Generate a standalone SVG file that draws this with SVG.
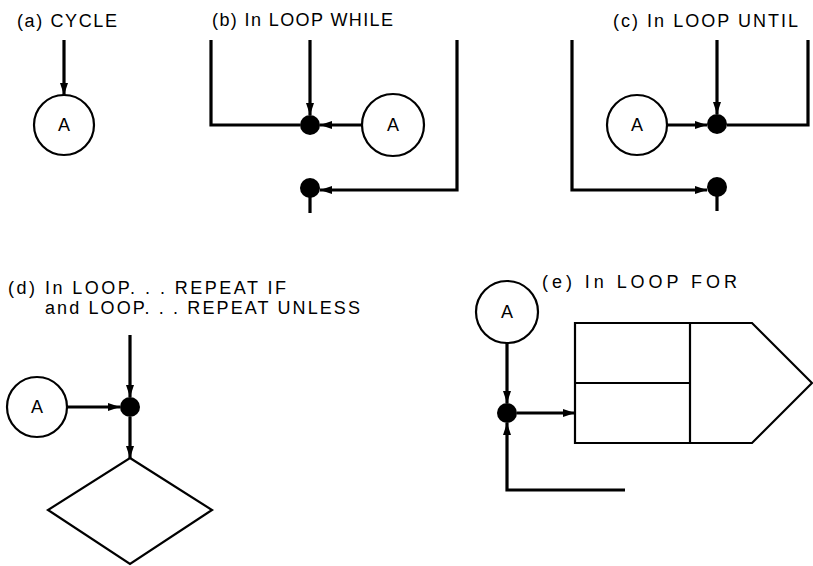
<svg xmlns="http://www.w3.org/2000/svg" width="813" height="566" viewBox="0 0 813 566">
<style>
text{font-family:"Liberation Sans",Arial,sans-serif;font-size:18px;fill:#000}
.a{font-size:18px}
.c{fill:#fff;stroke:#000;stroke-width:2.2}
.d{fill:#000}
.l{fill:none;stroke:#000;stroke-width:3.2;stroke-linejoin:miter}
.s{fill:none;stroke:#000;stroke-width:2.2}
</style>
<defs>
<marker id="ah" viewBox="0 0 12 8" refX="12" refY="4" markerWidth="12" markerHeight="8" markerUnits="userSpaceOnUse" orient="auto">
<path d="M0,0 L12,4 L0,8 z" fill="#000"/>
</marker>
</defs>
<rect width="813" height="566" fill="#fff"/>
<g id="labels">
<text x="17" y="27" textLength="100" lengthAdjust="spacing">(a)  CYCLE</text>
<text x="212" y="26" textLength="181" lengthAdjust="spacing">(b)  In LOOP WHILE</text>
<text x="613" y="27" textLength="185" lengthAdjust="spacing">(c)  In LOOP UNTIL</text>
<text x="8" y="294" textLength="278" lengthAdjust="spacing">(d)  In LOOP. . . REPEAT IF</text>
<text x="45" y="314" textLength="315" lengthAdjust="spacing">and LOOP. . . REPEAT UNLESS</text>
<text x="542" y="288" textLength="195" lengthAdjust="spacing">(e)  In LOOP FOR</text>
</g>
<g id="connectors">
<path class="l" d="M64,40 V95" marker-end="url(#ah)"/>
<path class="l" d="M211,40 V125 H300"/>
<path class="l" d="M310,40 V115" marker-end="url(#ah)"/>
<path class="l" d="M362,125 H320" marker-end="url(#ah)"/>
<path class="l" d="M457,40 V190 H320" marker-end="url(#ah)"/>
<path class="l" d="M310,196 V213"/>
<path class="l" d="M717,40 V114" marker-end="url(#ah)"/>
<path class="l" d="M667,125 H707" marker-end="url(#ah)"/>
<path class="l" d="M808,40 V125 H727"/>
<path class="l" d="M572,40 V190 H707" marker-end="url(#ah)"/>
<path class="l" d="M717,196 V211"/>
<path class="l" d="M130,335 V397" marker-end="url(#ah)"/>
<path class="l" d="M67,407 H120" marker-end="url(#ah)"/>
<path class="l" d="M130,417 V458" marker-end="url(#ah)"/>
<path class="l" d="M507,343 V403" marker-end="url(#ah)"/>
<path class="l" d="M517,413 H575" marker-end="url(#ah)"/>
<path class="l" d="M625,490 H507 V423" marker-end="url(#ah)"/>
</g>
<g id="nodeA_a"><circle class="c" cx="64" cy="125" r="30"/><text class="a" x="64" y="131" text-anchor="middle">A</text></g>
<g id="nodeA_b"><circle class="c" cx="393" cy="125" r="31"/><text class="a" x="393" y="131" text-anchor="middle">A</text></g>
<g id="dot_b1"><circle class="d" cx="310" cy="125" r="10"/></g>
<g id="dot_b2"><circle class="d" cx="310" cy="188" r="10"/></g>
<g id="nodeA_c"><circle class="c" cx="637" cy="125" r="30"/><text class="a" x="637" y="131" text-anchor="middle">A</text></g>
<g id="dot_c1"><circle class="d" cx="717" cy="124" r="10"/></g>
<g id="dot_c2"><circle class="d" cx="717" cy="187" r="10"/></g>
<g id="nodeA_d"><circle class="c" cx="37" cy="407" r="30"/><text class="a" x="37" y="413" text-anchor="middle">A</text></g>
<g id="dot_d"><circle class="d" cx="130" cy="407" r="10"/></g>
<g id="diamond_d"><polygon class="s" points="130,458 212,510 130,564 48,510"/></g>
<g id="nodeA_e"><circle class="c" cx="507" cy="312" r="31"/><text class="a" x="507" y="318" text-anchor="middle">A</text></g>
<g id="dot_e"><circle class="d" cx="507" cy="413" r="10"/></g>
<g id="for_box">
<polygon class="s" points="575,323 752,323 812,383 752,443 575,443"/>
<line class="s" x1="575" y1="383" x2="690" y2="383"/>
<line class="s" x1="690" y1="323" x2="690" y2="443"/>
</g>
</svg>
